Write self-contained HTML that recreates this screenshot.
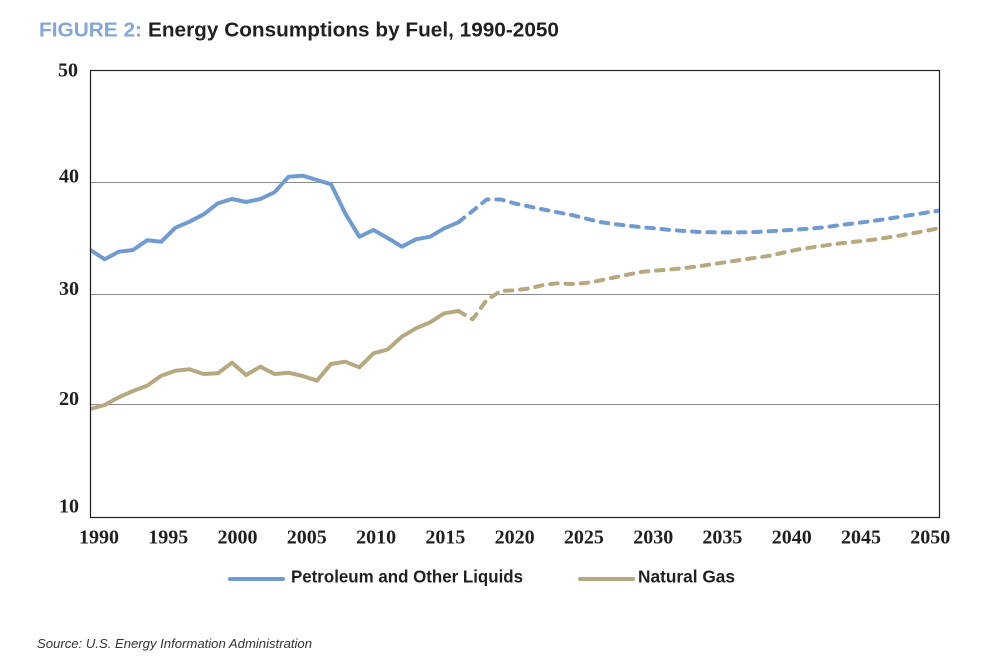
<!DOCTYPE html>
<html>
<head>
<meta charset="utf-8">
<style>
html,body{margin:0;padding:0;background:#fff;}
svg{display:block;}
</style>
</head>
<body>
<svg width="1000" height="656" viewBox="0 0 1000 656" xmlns="http://www.w3.org/2000/svg">
<defs>
<clipPath id="pa"><rect x="91" y="70" width="848" height="447"/></clipPath>
</defs>
<rect x="0" y="0" width="1000" height="656" fill="#fff"/>

<!-- Title -->
<text x="39" y="36.5" font-family="'Liberation Sans', sans-serif" font-weight="bold" font-size="20" fill="#82a7d8" textLength="103" lengthAdjust="spacingAndGlyphs">FIGURE 2:</text>
<text x="148" y="36.5" font-family="'Liberation Sans', sans-serif" font-weight="bold" font-size="20" fill="#231f20" textLength="411" lengthAdjust="spacingAndGlyphs">Energy Consumptions by Fuel, 1990-2050</text>

<!-- gridlines -->
<g stroke="#8c8c8c" stroke-width="1">
<line x1="91" y1="182.5" x2="939" y2="182.5"/>
<line x1="91" y1="294.5" x2="939" y2="294.5"/>
<line x1="91" y1="404.5" x2="939" y2="404.5"/>
</g>
<!-- frame -->
<rect x="90.5" y="70.5" width="849" height="447" fill="none" stroke="#231f20" stroke-width="1.2"/>

<!-- Y labels -->
<g font-family="'Liberation Serif', serif" font-weight="bold" font-size="20" fill="#231f20" text-anchor="end">
<text x="78" y="76.5">50</text>
<text x="79" y="182.5">40</text>
<text x="79" y="295">30</text>
<text x="79" y="405">20</text>
<text x="79" y="512.5">10</text>
</g>

<!-- X labels -->
<g font-family="'Liberation Serif', serif" font-weight="bold" font-size="20" fill="#231f20" text-anchor="middle">
<text x="99" y="543.5">1990</text>
<text x="168.3" y="543.5">1995</text>
<text x="237.5" y="543.5">2000</text>
<text x="306.8" y="543.5">2005</text>
<text x="376.1" y="543.5">2010</text>
<text x="445.4" y="543.5">2015</text>
<text x="514.6" y="543.5">2020</text>
<text x="583.9" y="543.5">2025</text>
<text x="653.2" y="543.5">2030</text>
<text x="722.4" y="543.5">2035</text>
<text x="791.7" y="543.5">2040</text>
<text x="861" y="543.5">2045</text>
<text x="930.3" y="543.5">2050</text>
</g>

<g clip-path="url(#pa)" fill="none" stroke-width="4" stroke-linejoin="round">
<!-- Petroleum solid -->
<polyline stroke="#6f9bd1" stroke-linecap="round" points="90.5,250 104.65,259.3 118.8,251.7 132.95,250 147.1,240.3 161.25,241.7 175.4,227.7 189.55,221.7 203.7,214.3 217.85,203.3 232,199 246.15,202 260.3,199 274.45,192.3 288.6,176.7 302.75,175.7 316.9,180 331.05,184.3 345.2,213.3 359.35,236.7 373.5,230 387.65,238 401.8,246.7 415.95,239.3 430.1,236.7 444.25,228.3 458.4,222.3"/>
<!-- Petroleum dashed -->
<polyline stroke="#6f9bd1" stroke-linecap="round" stroke-dasharray="7.5 7.8" points="458.4,222.3 472.55,211 486.7,199.5 500.85,199.5 515,203.5 529.15,206.5 543.3,209.5 557.45,212.3 571.6,215 585.75,218.5 599.9,222 614.05,224 628.2,225.7 642.35,227.3 656.5,228.5 670.65,230 684.8,231 698.95,232 713.1,232.3 727.25,232.4 741.4,232.3 755.55,232 769.7,231.2 783.85,230.4 798,229.5 812.15,228.5 826.3,227 840.45,225 854.6,223.3 868.75,221.5 882.9,219.5 897.05,217.3 911.2,215 925.35,212.8 939.5,210.5"/>
<!-- Gas solid -->
<polyline stroke="#b6a87f" stroke-linecap="round" points="90.5,409 104.65,405 118.8,397.3 132.95,391 147.1,385.7 161.25,375.7 175.4,370.7 189.55,369.3 203.7,374 217.85,373.3 232,362.7 246.15,375 260.3,366.7 274.45,374 288.6,372.7 302.75,376 316.9,380.7 331.05,364 345.2,361.7 359.35,367.3 373.5,353.3 387.65,349.5 401.8,336.7 415.95,328.3 430.1,322.3 444.25,313.3 458.4,311"/>
<!-- Gas dashed -->
<polyline stroke="#b6a87f" stroke-linecap="round" stroke-dasharray="7.5 7.8" points="458.4,311 472.55,319.3 486.7,300 500.85,291 515,290.3 529.15,288.5 543.3,285 557.45,283.3 571.6,284 585.75,283 599.9,280.5 614.05,277.5 628.2,274.5 642.35,271.8 656.5,270.5 670.65,269.5 684.8,268 698.95,266.3 713.1,264 727.25,262 741.4,259.8 755.55,257.8 769.7,255.7 783.85,252.5 798,249.5 812.15,247.3 826.3,245.3 840.45,243.3 854.6,241.8 868.75,240.3 882.9,238.3 897.05,236 911.2,233.5 925.35,231 939.5,228"/>
</g>

<!-- Legend -->
<line x1="230" y1="579" x2="283" y2="579" stroke="#6f9bd1" stroke-width="4" stroke-linecap="round"/>
<text x="291" y="582.7" font-family="'Liberation Sans', sans-serif" font-weight="bold" font-size="17.5" fill="#231f20" textLength="232" lengthAdjust="spacingAndGlyphs">Petroleum and Other Liquids</text>
<line x1="580" y1="579" x2="633" y2="579" stroke="#b6a87f" stroke-width="4" stroke-linecap="round"/>
<text x="638" y="582.7" font-family="'Liberation Sans', sans-serif" font-weight="bold" font-size="17.5" fill="#231f20" textLength="97" lengthAdjust="spacingAndGlyphs">Natural Gas</text>

<!-- Source -->
<text x="37" y="648" font-family="'Liberation Sans', sans-serif" font-style="italic" font-size="13" fill="#333" textLength="275" lengthAdjust="spacingAndGlyphs">Source: U.S. Energy Information Administration</text>
</svg>
</body>
</html>
